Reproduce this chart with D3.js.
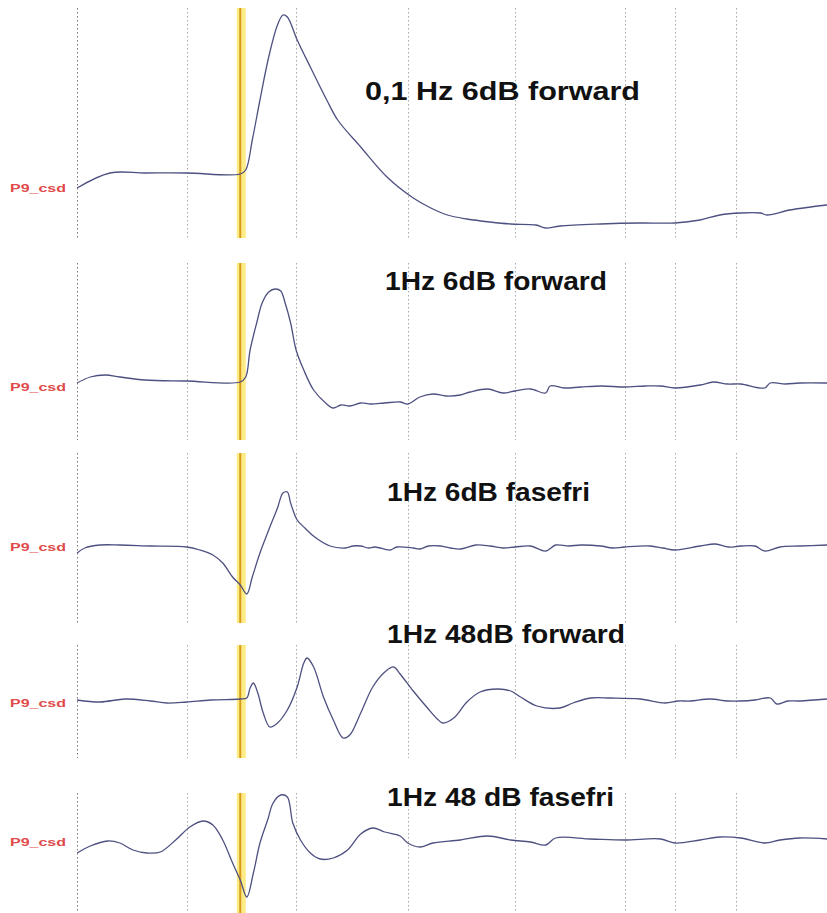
<!DOCTYPE html>
<html>
<head>
<meta charset="utf-8">
<script src="https://cdn.jsdelivr.net/npm/d3@7"></script>
<style>
  body { margin: 0; background: #fff; }
  svg { display: block; }
  .grid { stroke: #9a9a9a; stroke-width: 1; stroke-dasharray: 1.5,2.5; }
  .trace { fill: none; stroke: #4d5080; stroke-width: 1.3; stroke-linejoin: round; }
  .title { font-family: "Liberation Sans", Arial, sans-serif; font-weight: bold; font-size: 25px; fill: #111; }
  .chan { font-family: "Liberation Sans", Arial, sans-serif; font-weight: bold; font-size: 11px; fill: #e04a4a; }
</style>
</head>
<body>
<script>
var WIDTH = 827;
var HEIGHT = 913;

// time in ms relative to stimulus, amplitude in arbitrary units (up = positive)
var titles = ["0,1 Hz 6dB forward", "1Hz 6dB forward", "1Hz 6dB fasefri", "1Hz 48dB forward", "1Hz 48 dB fasefri"];
var channel = "P9_csd";
var gridTimes = [-149, -49, 51, 153, 251, 351, 397, 453];
var stimTime = 0;

var trace1 = [[-149,-7.5],[-119,0],[-87,0],[-49,0],[0,-0.5],[5,1.5],[11,16.5],[18,36.5],[26,58],[34,74],[39,79],[43,78],
  [52,66.5],[64,53],[79,36.5],[89,26.5],[110,13],[134,-2],[158,-12.5],[174,-17.5],[189,-21],[207,-23],[228,-24.5],
  [247,-25.5],[270,-26],[279,-27.5],[292,-26.5],[329,-25.5],[365,-25],[397,-25],[420,-23.5],[438,-21],[457,-20],
  [475,-20],[481,-21],[502,-18.5],[521,-17],[536,-16]];

var trace2 = [[-149,-1],[-137,2],[-123,3],[-110,2],[-87,0.5],[-49,0],[0,-0.5],[5,2],[9,15.5],[15,29],[20,39],[26,44.5],
  [32,46],[37,45],[41,39],[46,29],[51,15.5],[58,5.5],[67,-4.5],[78,-11],[85,-13.5],[92,-12],[100,-12.5],[110,-11],
  [119,-11.5],[132,-11],[146,-10.5],[153,-11.5],[164,-8],[176,-6.5],[188,-7.5],[201,-7],[210,-5.5],[226,-4],[240,-6],
  [251,-5],[265,-4],[279,-6],[283,-2.5],[296,-3.5],[311,-3],[330,-2.5],[351,-3],[370,-2.5],[384,-2.5],[397,-3.5],
  [420,-2],[432,-0.5],[445,-1.5],[457,-1.5],[479,-3.5],[484,-1],[498,-1.5],[511,-1],[536,-1]];

var trace3 = [[-149,-3],[-142,-0.5],[-128,1],[-110,1],[-82,0.5],[-49,0],[-37,-1.5],[-25,-4],[-16,-8],[-7,-15],[0,-19],
  [6,-23.5],[11,-15],[18,-3],[26,8.5],[34,19.5],[39,27],[43,27.5],[46,22],[52,13.5],[59,9.5],[68,5],[82,0.5],[96,-0.5],
  [103,0.5],[110,0.5],[117,-0.5],[123,0],[137,-1.5],[143,0],[158,-0.5],[164,-1],[172,0.5],[183,0.5],[192,-0.5],[201,-1],
  [215,1],[228,0.5],[240,-0.5],[251,0],[265,0.5],[279,-2],[288,1],[300,0.5],[311,1],[329,0.5],[340,-0.5],[351,0],
  [374,0.5],[386,-0.5],[397,-1.5],[420,0.5],[434,1.5],[446,0],[457,0.5],[470,0.5],[479,-2],[493,0],[511,0.5],[536,1]];

var trace4 = [[-149,0],[-128,-1],[-105,0.5],[-82,-0.5],[-67,-1.5],[-49,-1],[-27,0],[0,0.5],[6,1],[9,6],[12,8.5],[16,3.5],
  [21,-6.5],[27,-13.5],[34,-11.5],[43,-5],[52,6.5],[58,18.5],[61,21],[67,16.5],[76,1.5],[85,-10],[94,-19],[100,-17.5],
  [110,-6.5],[121,6.5],[132,14],[140,16.5],[146,13],[158,4.5],[171,-4],[180,-9.5],[185,-11.5],[195,-9],[207,-1],
  [219,4],[235,5.5],[247,4.5],[256,1.5],[271,-3],[292,-4],[304,-1.5],[320,1],[338,1],[365,0.5],[388,-1.5],[400,-0.5],
  [411,-0.5],[429,0.5],[445,-0.5],[457,-0.5],[470,0],[484,1],[490,-2],[500,-0.5],[511,-0.5],[536,0.5]];

var trace5 = [[-149,-6.5],[-137,-3],[-121,-0.5],[-110,-1.5],[-98,-5],[-85,-6.5],[-73,-6],[-59,0],[-46,6.5],[-34,9.5],
  [-25,7.5],[-16,0],[-7,-11.5],[0,-20],[6,-28.5],[12,-16.5],[18,-1.5],[25,10],[30,18.5],[37,22.5],[43,21.5],[48,8.5],
  [55,0],[64,-6.5],[73,-9.5],[85,-9],[98,-5],[110,3],[121,6],[132,4],[146,2],[153,-1.5],[164,-3.5],[176,-1.5],
  [201,0],[226,2],[247,0],[265,-1],[279,-2.5],[288,1],[320,0.5],[351,0],[384,0.5],[397,-1.5],[420,0],[438,1.5],
  [457,1],[479,-1.5],[493,0],[511,1],[536,0.5]];

var traces = [trace1, trace2, trace3, trace4, trace5];

// layout of the five stacked panels (pixels)
var panels = [
  {top: 8,   bottom: 238, base: 173, labelY: 192, titleX: 365, titleY: 100, titleW: 275},
  {top: 263, bottom: 440, base: 381, labelY: 391, titleX: 385, titleY: 290, titleW: 222},
  {top: 453, bottom: 623, base: 547, labelY: 551, titleX: 387, titleY: 501, titleW: 203},
  {top: 645, bottom: 758, base: 700, labelY: 707, titleX: 387, titleY: 643, titleW: 238},
  {top: 793, bottom: 913, base: 840, labelY: 846, titleX: 387, titleY: 806, titleW: 227}
];

var xScale = d3.scaleLinear()
    .domain([-150, 450])
    .range([76, 733]);

var svg = d3.select('body').append('svg')
    .attr('width', WIDTH)
    .attr('height', HEIGHT);

panels.forEach(function (p, i) {
  var yScale = d3.scaleLinear()
      .domain([-100, 100])
      .range([p.base + 200, p.base - 200]);

  var g = svg.append('g');

  g.selectAll('line.grid')
    .data(gridTimes)
    .enter()
    .append('line')
    .attr('class', 'grid')
    .attr('x1', function (d) { return Math.round(xScale(d)) + 0.5; })
    .attr('x2', function (d) { return Math.round(xScale(d)) + 0.5; })
    .attr('y1', p.top)
    .attr('y2', p.bottom)
    .style('stroke', function (d, j) { return j == 0 ? '#777' : '#a8a8a8'; });

  // stimulus marker
  var sx = xScale(stimTime);
  g.append('rect')
    .attr('x', sx - 3.5)
    .attr('y', p.top)
    .attr('width', 9)
    .attr('height', p.bottom - p.top)
    .attr('fill', '#fdec86');
  g.append('line')
    .attr('x1', sx).attr('x2', sx)
    .attr('y1', p.top).attr('y2', p.bottom)
    .attr('stroke', '#d99a1c')
    .attr('stroke-width', 2);

  var line = d3.line()
      .curve(d3.curveCatmullRom.alpha(0.5))
      .x(function (d) { return xScale(d[0]); })
      .y(function (d) { return yScale(d[1]); });

  g.append('path')
    .attr('class', 'trace')
    .attr('d', line(traces[i]));

  g.append('text')
    .attr('class', 'chan')
    .attr('x', 10)
    .attr('y', p.labelY)
    .attr('textLength', 56)
    .attr('lengthAdjust', 'spacingAndGlyphs')
    .text(channel);

  g.append('text')
    .attr('class', 'title')
    .attr('x', p.titleX)
    .attr('y', p.titleY)
    .attr('textLength', p.titleW)
    .attr('lengthAdjust', 'spacingAndGlyphs')
    .text(titles[i]);
});
</script>
</body>
</html>
